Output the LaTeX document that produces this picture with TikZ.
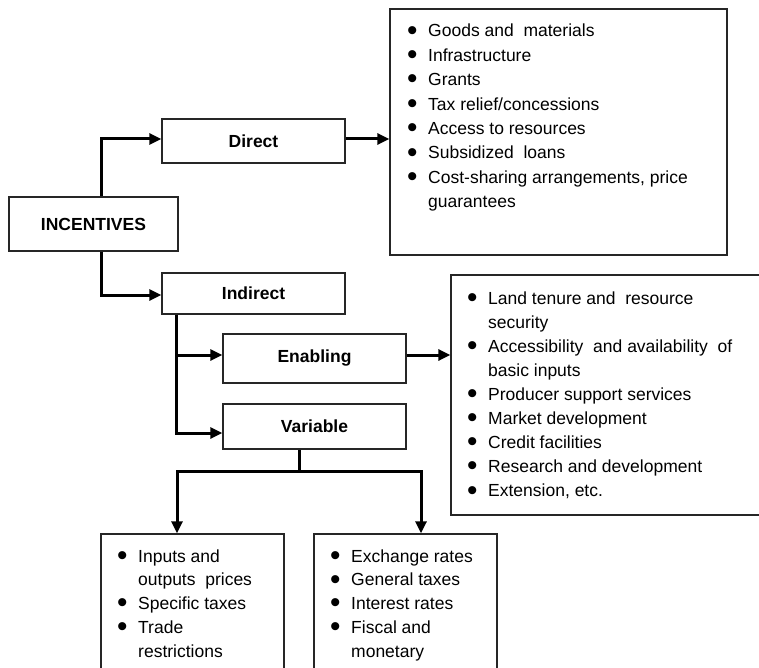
\documentclass[tikz,border=0pt]{standalone}
\usepackage{fontspec}
\setmainfont{Liberation Sans}
\usetikzlibrary{arrows.meta}
\newcommand{\bl}{\makebox[24pt][l]{\hspace{3pt}\smash{\raisebox{-3.2pt}{\scalebox{1.7}{\textbullet}}}}}
\newcommand{\cl}{\hspace*{24pt}}
\tikzset{
  box/.style={draw=black!85, line width=1.4pt, rectangle, inner sep=0pt},
  lbl/.style={font=\fontsize{17.5}{21}\selectfont\bfseries},
  conn/.style={line width=3pt, -{Triangle[length=12pt,width=11pt]}},
  wire/.style={line width=3pt},
  listtxt/.style={anchor=base west, inner sep=0pt}
}
\begin{document}
\begin{tikzpicture}[x=1pt,y=-1pt]
\useasboundingbox (0,0) rectangle (759,668);
\clip (0,0) rectangle (759,668);
% boxes
\node[box, lbl, minimum width=169pt, minimum height=54pt] (inc) at (93.5,224) {INCENTIVES};
\node[box, lbl, minimum width=183pt, minimum height=44pt] (direct) at (253.5,141) {Direct};
\node[box, lbl, minimum width=183pt, minimum height=41pt] (indirect) at (253.5,293.5) {Indirect};
\node[box, lbl, minimum width=183pt, minimum height=49pt] (enabling) at (314.5,358.5) {Enabling};
\node[box, lbl, minimum width=183pt, minimum height=45pt] (variable) at (314.5,426.5) {Variable};
\node[box, minimum width=337pt, minimum height=246pt] (list1) at (558.5,132) {};
\node[box, minimum width=311pt, minimum height=240pt] (list2) at (606.5,395) {};
\node[box, minimum width=183pt, minimum height=140pt] (list3) at (192.5,604) {};
\node[box, minimum width=183pt, minimum height=140pt] (list4) at (405.5,604) {};
% list texts
\node[listtxt] (t1) at (404,37) {\parbox[t]{330pt}{\fontsize{17.5}{24.4}\selectfont
\bl Goods and \ materials\\
\bl Infrastructure\\
\bl Grants\\
\bl Tax relief/concessions\\
\bl Access to resources\\
\bl Subsidized \ loans\\
\bl Cost-sharing arrangements, price\\
\cl guarantees}};
\node[listtxt] (t2) at (464,304) {\parbox[t]{330pt}{\fontsize{17.5}{24.1}\selectfont
\bl Land tenure and \ resource\\
\cl security\\
\bl Accessibility \ and availability \ of\\
\cl basic inputs\\
\bl Producer support services\\
\bl Market development\\
\bl Credit facilities\\
\bl Research and development\\
\bl Extension, etc.}};
\node[listtxt] (t3) at (114,562) {\parbox[t]{200pt}{\fontsize{17.5}{23.8}\selectfont
\bl Inputs and\\
\cl outputs \ prices\\
\bl Specific taxes\\
\bl Trade\\
\cl restrictions}};
\node[listtxt] (t4) at (327,562) {\parbox[t]{200pt}{\fontsize{17.5}{23.8}\selectfont
\bl Exchange rates\\
\bl General taxes\\
\bl Interest rates\\
\bl Fiscal and\\
\cl monetary}};
% connectors (yshift is in canvas units: positive = up)
\draw[conn] ([xshift=7.5pt]inc.north) |- ([yshift=2pt]direct.west);
\draw[conn] ([xshift=7.5pt]inc.south) |- ([yshift=-1.5pt]indirect.west);
\draw[conn] ([yshift=2pt]direct.east) -- ([yshift=2pt]direct.east -| list1.west);
\draw[conn] ([xshift=15pt]indirect.south west) |- ([yshift=3.5pt]enabling.west);
\draw[conn] ([xshift=15pt]indirect.south west) |- ([yshift=-6.5pt]variable.west);
\draw[conn] ([yshift=3.5pt]enabling.east) -- ([yshift=3.5pt]enabling.east -| list2.west);
\coordinate (vj) at ([xshift=-15.5pt,yshift=-22pt]variable.south);
\draw[wire] ([xshift=-15.5pt]variable.south) -- (vj);
\draw[conn] (vj) -| ([xshift=-15.5pt]list3.north);
\draw[conn] (vj) -| ([xshift=15.5pt]list4.north);
\end{tikzpicture}
\end{document}
